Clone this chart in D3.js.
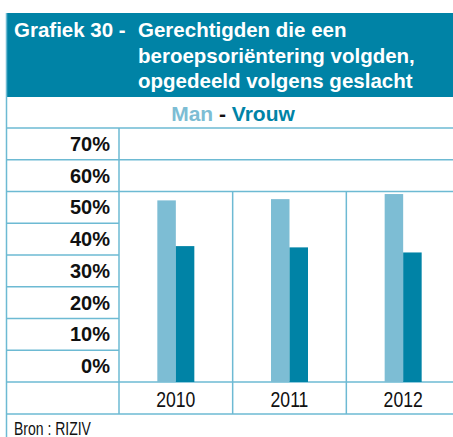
<!DOCTYPE html>
<html>
<head>
<meta charset="utf-8">
<script src="https://cdn.jsdelivr.net/npm/d3@7"></script>
<style>
  html, body { margin: 0; padding: 0; background: #fff; }
  svg { display: block; }
</style>
</head>
<body>
<div id="chart"></div>
<script>
// data
var years = ["2010", "2011", "2012"];
var series = ["Man", "Vrouw"];
var man = [57.2, 57.6, 59.2];
var vrouw = [42.8, 42.4, 40.8];
var yTicks = [0, 10, 20, 30, 40, 50, 60, 70];

var titleLines = ["Gerechtigden die een", "beroepsoriëntering volgden,", "opgedeeld volgens geslacht"];

var W = 453, H = 437;
var dark = "#0083a6", light = "#7dbdd4", line = "#6dbad3";
var font = "'Liberation Sans', Arial, Helvetica, sans-serif";

var svg = d3.select("#chart").append("svg")
    .attr("width", W)
    .attr("height", H);

var boxLeft = 6.5, labelRight = 119, plotRight = 460;
var top0 = 128, axisY = 382, yearRowBottom = 414;

// y scale: 0 at bottom, each row one 10% step, 80% at top of the 70% row
var y = d3.scaleLinear().domain([0, 80]).range([axisY, top0]);

var x = d3.scaleBand().domain(years).range([labelRight, plotRight]).padding(0);
var xs = d3.scaleBand().domain(series).range([0, 37]);

// header
svg.append("rect")
    .attr("x", boxLeft).attr("y", 13)
    .attr("width", W - boxLeft).attr("height", 84)
    .attr("fill", dark);

var head = svg.append("g")
    .attr("font-family", font)
    .attr("font-weight", "bold")
    .attr("font-size", 20.5)
    .attr("fill", "#fff");
head.append("text").attr("x", 14).attr("y", 37).text("Grafiek 30 -");
head.selectAll("text.t").data(titleLines).enter().append("text")
    .attr("class", "t")
    .attr("x", 138)
    .attr("y", function(d, i){ return 37 + i * 25.5; })
    .text(function(d){ return d; });

// legend
var leg = svg.append("text")
    .attr("x", 233).attr("y", 121)
    .attr("text-anchor", "middle")
    .attr("font-family", font)
    .attr("font-weight", "bold")
    .attr("font-size", 21);
leg.append("tspan").attr("fill", light).text("Man");
leg.append("tspan").attr("fill", "#111").text(" - ");
leg.append("tspan").attr("fill", dark).text("Vrouw");

// grid lines
var g = svg.append("g").attr("stroke", line).attr("stroke-width", 1.5).attr("fill", "none");
// left border of box
g.append("line").attr("x1", boxLeft).attr("x2", boxLeft).attr("y1", 13).attr("y2", H);
// full width lines
[top0, y(70), y(60), axisY, yearRowBottom].forEach(function(v){
    g.append("line").attr("x1", boxLeft).attr("x2", W).attr("y1", v).attr("y2", v);
});
// lines in label column
yTicks.slice(1, 6).forEach(function(t){
    g.append("line").attr("x1", boxLeft).attr("x2", labelRight).attr("y1", y(t)).attr("y2", y(t));
});
// label column separator
g.append("line").attr("x1", labelRight).attr("x2", labelRight).attr("y1", top0).attr("y2", yearRowBottom);
// column separators
years.slice(1).forEach(function(yr){
    g.append("line").attr("x1", x(yr)).attr("x2", x(yr)).attr("y1", y(60)).attr("y2", yearRowBottom);
});

// y labels
svg.append("g").selectAll("text").data(yTicks).enter().append("text")
    .attr("x", 110)
    .attr("y", function(d){ return y(d + 5) + 7; })
    .attr("text-anchor", "end")
    .attr("font-family", font)
    .attr("font-weight", "bold")
    .attr("font-size", 20)
    .attr("fill", "#111")
    .text(function(d){ return d + "%"; });

// bars
var bars = svg.append("g");
years.forEach(function(yr, i){
    var cx = x(yr) + x.bandwidth() / 2 - 18.5;
    [man[i], vrouw[i]].forEach(function(v, j){
        bars.append("rect")
            .attr("x", cx + xs(series[j]))
            .attr("y", y(v))
            .attr("width", xs.bandwidth())
            .attr("height", axisY - y(v))
            .attr("fill", j === 0 ? light : dark);
    });
});

// x labels (condensed look)
svg.append("g").selectAll("text").data(years).enter().append("text")
    .attr("transform", function(d){
        return "translate(" + (x(d) + x.bandwidth() / 2) + ",406.5) scale(0.8,1)";
    })
    .attr("text-anchor", "middle")
    .attr("font-family", font)
    .attr("font-size", 22)
    .attr("fill", "#111")
    .text(function(d){ return d; });

// source
svg.append("text")
    .attr("transform", "translate(14,435) scale(0.8,1)")
    .attr("font-family", font)
    .attr("font-size", 17.5)
    .attr("fill", "#111")
    .text("Bron : RIZIV");
</script>
</body>
</html>
